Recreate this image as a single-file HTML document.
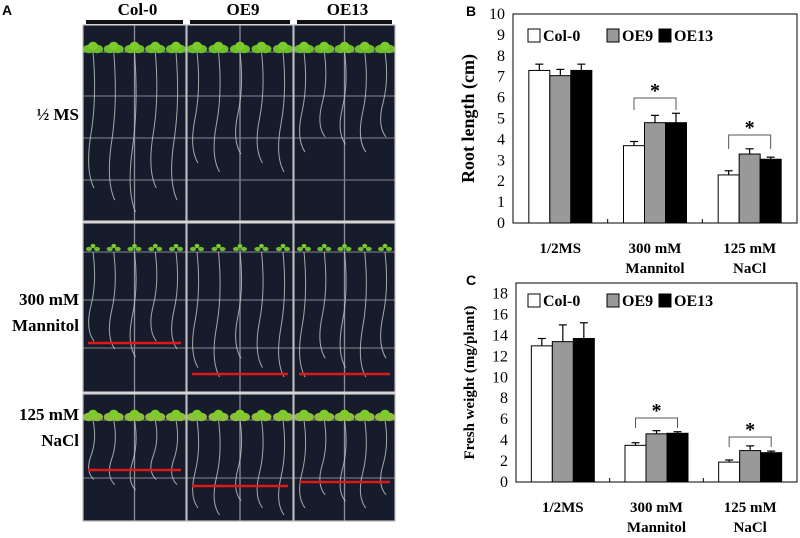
<!DOCTYPE html>
<html><head><meta charset="utf-8"><style>
body{margin:0;background:#fff;width:800px;height:538px;overflow:hidden}
svg{display:block}
text{font-family:"Liberation Serif",serif}
.pl{font-family:"Liberation Sans",sans-serif;font-weight:bold;font-size:14px}
</style></head><body>
<svg id="fig" width="800" height="538">
<text class="pl" x="2" y="15">A</text>
<text class="pl" x="466" y="16">B</text>
<text class="pl" x="466" y="285">C</text>
<g id="photo"></g>
<g id="chartB"></g>
<g id="chartC"></g>
</svg>
<script>
const NS="http://www.w3.org/2000/svg";
function mk(p,tag,a,txt){const e=document.createElementNS(NS,tag);for(const k in a)e.setAttribute(k,a[k]);if(tag==='text'&&!a['font-family'])e.setAttribute('font-family','"Liberation Serif", serif');if(txt!=null)e.textContent=txt;p.appendChild(e);return e;}

// ---------- Chart data ----------
const categories=[["1/2MS"],["300 mM","Mannitol"],["125 mM","NaCl"]];
const seriesNames=["Col-0","OE9","OE13"];
const seriesColors=["#ffffff","#999999","#000000"];
const rootCol0=[7.3,3.7,2.3];
const rootOE9=[7.05,4.8,3.3];
const rootOE13=[7.3,4.8,3.05];
const rootErrCol0=[0.3,0.2,0.2];
const rootErrOE9=[0.3,0.35,0.25];
const rootErrOE13=[0.3,0.45,0.1];
const rootTicks=[0,1,2,3,4,5,6,7,8,9,10];
const fwCol0=[13,3.5,1.9];
const fwOE9=[13.4,4.6,3.0];
const fwOE13=[13.7,4.65,2.8];
const fwErrCol0=[0.7,0.25,0.2];
const fwErrOE9=[1.6,0.3,0.45];
const fwErrOE13=[1.5,0.15,0.15];
const fwTicks=[0,2,4,6,8,10,12,14,16,18];

function chart(g,o){
  const {L,R,T,B,max,ticks,vals,errs,title,legY,sig}=o;
  const y=v=>B-(v/max)*(B-T);
  const gw=(R-L)/3;
  const bw=21;
  const x=(ci,si)=>L+gw*ci+gw/2-1.5*bw+si*bw;
  const box=mk(g,'rect',{x:L,y:T,width:R-L,height:B-T,fill:'none',stroke:'#000','stroke-width':1});
  
  
  ticks.forEach(t=>{
    const tl=mk(g,'text',{x:L-8,y:y(t)+5,'text-anchor':'end','font-size':16},t);
    
    
  });
  [1,2].forEach(i=>mk(g,'line',{x1:L+gw*i,x2:L+gw*i,y1:B,y2:B-4,stroke:'#000'}));
  vals.forEach((sv,si)=>sv.forEach((v,ci)=>{
    const bx=x(ci,si);
    const ex=bx+bw/2, top=y(v+errs[si][ci]);
    const el=mk(g,'line',{x1:ex,x2:ex,y1:y(v),y2:top,stroke:'#000','stroke-width':1.2});
    
    
    mk(g,'line',{x1:ex-4,x2:ex+4,y1:top,y2:top,stroke:'#000','stroke-width':1.2});
    const r=mk(g,'rect',{x:bx,y:y(v),width:bw,height:B-y(v),fill:seriesColors[si],stroke:'#000','stroke-width':1});
    
    
  }));
  categories.forEach((c,ci)=>c.forEach((ln,li)=>{
    const t=mk(g,'text',{x:L+gw*ci+gw/2,y:B+30+li*20,'text-anchor':'middle','font-size':15,'font-weight':'bold'},ln);
    
    
  }));
  const cy=(T+B)/2;
  const yt=mk(g,'text',{x:474,y:cy,transform:`rotate(-90 474 ${cy})`,'text-anchor':'middle','font-size':o.tfs,'font-weight':'bold'},title);
  
  
  const lxs=[528,607,659];
  seriesNames.forEach((n,si)=>{
    const lg=mk(g,'g',{});
    
    
    mk(lg,'rect',{x:lxs[si],y:legY-12,width:12,height:13,fill:seriesColors[si],stroke:'#000'});
    mk(lg,'text',{x:lxs[si]+15,y:legY,'font-size':16,'font-weight':'bold'},n);
  });
  sig.forEach(s=>{
    const ci=s.c;
    const x1=x(ci,0)+bw/2,x2=x(ci,2)+bw/2;
    const br=mk(g,'path',{d:`M${x1} ${s.y+s.h} V${s.y} H${x2} V${s.y+s.h}`,fill:'none',stroke:'#555','stroke-width':1});
    
    
    const st=mk(g,'text',{x:(x1+x2)/2,y:s.y-1,'text-anchor':'middle','font-size':20,'font-weight':'bold'},'*');
    
    
  });
}
chart(document.getElementById('chartB'),{L:513,R:797,T:14,B:223,max:10,ticks:rootTicks,
  vals:[rootCol0,rootOE9,rootOE13],errs:[rootErrCol0,rootErrOE9,rootErrOE13],title:'Root length (cm)',tfs:18,legY:41,
  sig:[{c:1,y:98,h:12},{c:2,y:135,h:14}]});
chart(document.getElementById('chartC'),{L:516,R:797,T:283,B:482,max:19,ticks:fwTicks,
  vals:[fwCol0,fwOE9,fwOE13],errs:[fwErrCol0,fwErrOE9,fwErrOE13],title:'Fresh weight (mg/plant)',tfs:15,legY:306,
  sig:[{c:1,y:418,h:10},{c:2,y:437,h:10}]});

// ---------- Photo panel ----------
const P=document.getElementById('photo');
const cols=[[83,186],[187,293],[294,395]];
const rows=[[25,221],[223,392],[394,521]];
const colNames=["Col-0","OE9","OE13"];
cols.forEach((c,i)=>{
  const t=mk(P,'text',{x:(c[0]+c[1])/2+3,y:15,'text-anchor':'middle','font-size':17,'font-weight':'bold'},colNames[i]);
  
  
  mk(P,'rect',{x:c[0]+3,y:20,width:c[1]-c[0]-6,height:4,fill:'#111'});
});
const rowLabels=[["½ MS"],["300 mM","Mannitol"],["125 mM","NaCl"]];
const rowLabelY=[[120],[305,331],[420,446]];
rowLabels.forEach((rl,i)=>rl.forEach((ln,j)=>{
  const t=mk(P,'text',{x:79,y:rowLabelY[i][j],'text-anchor':'end','font-size':17,'font-weight':'bold'},ln);
  
  
}));
const rootLen=[[160,120,100],[105,125,125],[70,95,88]];
const redY=[[null,null,null],[343,374,374],[470,486,482]];
rows.forEach((r,ri)=>cols.forEach((c,ci)=>{
  const g=mk(P,'g',{});
  
  
  mk(g,'rect',{x:c[0],y:r[0],width:c[1]-c[0],height:r[1]-r[0],fill:'#171c2d'});
  const mid=(c[0]+c[1])/2;
  mk(g,'line',{x1:mid,x2:mid,y1:r[0],y2:r[1],stroke:'#8a8e98','stroke-width':1.3});
  const hy=ri==0?[52,96,138,180]:ri==1?[252,300,348]:[420,478];
  hy.forEach(h=>mk(g,'line',{x1:c[0],x2:c[1],y1:h,y2:h,stroke:'#6f7380','stroke-width':1.2}));
  const top=hy[0];
  for(let k=0;k<5;k++){
    const rx=c[0]+10+k*(c[1]-c[0]-20)/4;
    const len=rootLen[ri][ci]*(0.85+0.15*((k*7+ci)%3)/2);
    mk(g,'path',{d:`M${rx} ${top} q4 ${len/3} -2 ${len*0.6} t3 ${len*0.4}`,stroke:'#c8ccc8','stroke-width':1,fill:'none',opacity:0.8});
    const lc=ri==2?'#8fbf3a':'#6fbf2a';
    const sz=ri==1?3:6;
    mk(g,'ellipse',{cx:rx-4,cy:top-3,rx:sz,ry:sz*0.7,fill:lc});
    mk(g,'ellipse',{cx:rx+4,cy:top-3,rx:sz,ry:sz*0.7,fill:lc});
    mk(g,'ellipse',{cx:rx,cy:top-6,rx:sz*0.8,ry:sz*0.7,fill:'#7ccc2c'});
  }
  if(redY[ri][ci]){
    const rl=mk(g,'line',{x1:c[0]+5,x2:c[1]-5,y1:redY[ri][ci],y2:redY[ri][ci],stroke:'#e01818','stroke-width':2.5});
    
    
  }
  mk(g,'rect',{x:c[0],y:r[0],width:c[1]-c[0],height:r[1]-r[0],fill:'none',stroke:'#bbb','stroke-width':1.2});
}));
</script>
</body></html>
